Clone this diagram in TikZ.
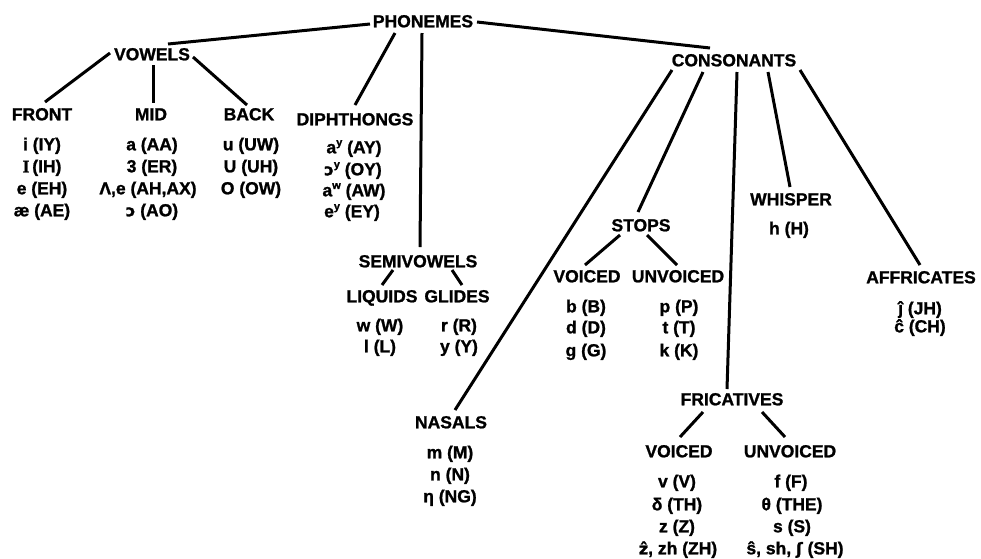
\documentclass[tikz,border=0pt]{standalone}
\usepackage{fontspec}
\setmainfont{Liberation Sans}[BoldFeatures={FakeBold=1.2}]
\newfontfamily\ipafont{DejaVu Sans}[Scale=0.92,BoldFeatures={FakeBold=1.2}]
\newfontfamily\seriffont{Liberation Serif}[BoldFeatures={FakeBold=1.2}]
\newcommand{\ipa}[1]{{\ipafont\bfseries #1}}
\newcommand{\serifI}{{\seriffont\bfseries I}}
\newcommand{\sups}[1]{\raisebox{0.42em}{\fontsize{11}{11}\selectfont #1}}
\usetikzlibrary{calc}
\begin{document}
\begin{tikzpicture}[x=1pt,y=-1pt,
  every node/.style={font=\fontsize{17.5}{21}\selectfont\bfseries, inner sep=0pt, text height=12.6pt, text depth=0pt},
  link/.style={line width=3pt}]
\useasboundingbox (0,0) rectangle (981,558);
% top level
\node (ph) at (423,21) {PHONEMES};
\node (vw) at (152,54) {VOWELS};
\node (co) at (734,60) {CONSONANTS};
% vowels
\node (fr) at (42,114) {FRONT};
\node (mi) at (151,114) {MID};
\node (bk) at (249,114) {BACK};
\node (di) at (355,119) {DIPHTHONGS};
\node (fr1) at (42,144) {i (IY)};
\node (fr2) at (42,166) {\serifI\,(IH)};
\node (fr3) at (42,188) {e (EH)};
\node (fr4) at (42,210) {æ (AE)};
\node (mi1) at (152,144) {a (AA)};
\node (mi2) at (152,166) {3 (ER)};
\node (mi3) at (148,188) {Λ,e (AH,AX)};
\node (mi4) at (152,210) {\ipa{ɔ} (AO)};
\node (bk1) at (251,144) {u (UW)};
\node (bk2) at (251,166) {U (UH)};
\node (bk3) at (251,188) {O (OW)};
\node (di1) at (354,147) {a\sups{y} (AY)};
\node (di2) at (353,169) {\ipa{ɔ}\sups{y} (OY)};
\node (di3) at (354,190) {a\sups{w} (AW)};
\node (di4) at (352,211) {e\sups{y} (EY)};
% semivowels
\node (sv) at (418,261) {SEMIVOWELS};
\node (lq) at (382,296) {LIQUIDS};
\node (gl) at (457,296) {GLIDES};
\node (lq1) at (380,325) {w (W)};
\node (lq2) at (380,346) {l (L)};
\node (gl1) at (459,325) {r (R)};
\node (gl2) at (459,346) {y (Y)};
% stops
\node (st) at (641,225) {STOPS};
\node (stv) at (587,276) {VOICED};
\node (stu) at (678,276) {UNVOICED};
\node (stv1) at (586,306) {b (B)};
\node (stv2) at (586,327) {d (D)};
\node (stv3) at (586,350) {g (G)};
\node (stu1) at (679,306) {p (P)};
\node (stu2) at (679,327) {t (T)};
\node (stu3) at (679,350) {k (K)};
% whisper, affricates
\node (wh) at (791,199) {WHISPER};
\node (wh1) at (789,228) {h (H)};
\node (af) at (921,277) {AFFRICATES};
\node (af1) at (920,308) {ĵ (JH)};
\node (af2) at (920,326) {ĉ (CH)};
% nasals
\node (na) at (451,422) {NASALS};
\node (na1) at (450,452) {m (M)};
\node (na2) at (450,474) {n (N)};
\node (na3) at (450,496) {η (NG)};
% fricatives
\node (fc) at (732,399) {FRICATIVES};
\node (fv) at (679,451) {VOICED};
\node (fu) at (790,451) {UNVOICED};
\node (fv1) at (677,481) {v (V)};
\node (fv2) at (677,504) {δ (TH)};
\node (fv3) at (677,526) {z (Z)};
\node (fv4) at (678,548) {\ipa{ẑ}, zh (ZH)};
\node (fu1) at (791,481) {f (F)};
\node (fu2) at (792,504) {θ (THE)};
\node (fu3) at (792,526) {s (S)};
\node (fu4) at (795,548) {ŝ, sh, \ipa{ʃ} (SH)};
% connectors
\draw[link] ($(ph)+(-53,3)$) -- ($(vw)+(16,-10)$);
\draw[link] ($(ph)+(54,1)$) -- ($(co)+(-24,-12)$);
\draw[link] ($(ph)+(-28,12)$) -- ($(di)+(0,-14)$);
\draw[link] ($(ph)+(-1,12)$) -- ($(sv)+(2,-14)$);
\draw[link] ($(vw)+(-42,-1)$) -- ($(fr)+(3,-12)$);
\draw[link] ($(vw)+(1,11)$) -- ($(mi)+(2,-11)$);
\draw[link] ($(vw)+(41,3)$) -- ($(bk)+(-2,-9)$);
\draw[link] ($(sv)+(-25,9)$) -- ($(lq)+(0,-11)$);
\draw[link] ($(sv)+(34,9)$) -- ($(gl)+(5,-11)$);
\draw[link] ($(co)+(-62,10)$) -- ($(na)+(4,-12)$);
\draw[link] ($(co)+(-31,12)$) -- ($(st)+(-3,-13)$);
\draw[link] ($(co)+(3,12)$) -- ($(fc)+(-5,-10)$);
\draw[link] ($(co)+(34,12)$) -- ($(wh)+(-1,-12)$);
\draw[link] ($(co)+(66,10)$) -- ($(af)+(-1,-12)$);
\draw[link] ($(st)+(-21,10)$) -- ($(stv)+(-2,-11)$);
\draw[link] ($(st)+(6,10)$) -- ($(stu)+(-1,-11)$);
\draw[link] ($(fc)+(-29,13)$) -- ($(fv)+(1,-14)$);
\draw[link] ($(fc)+(30,13)$) -- ($(fu)+(-5,-14)$);
\end{tikzpicture}
\end{document}
